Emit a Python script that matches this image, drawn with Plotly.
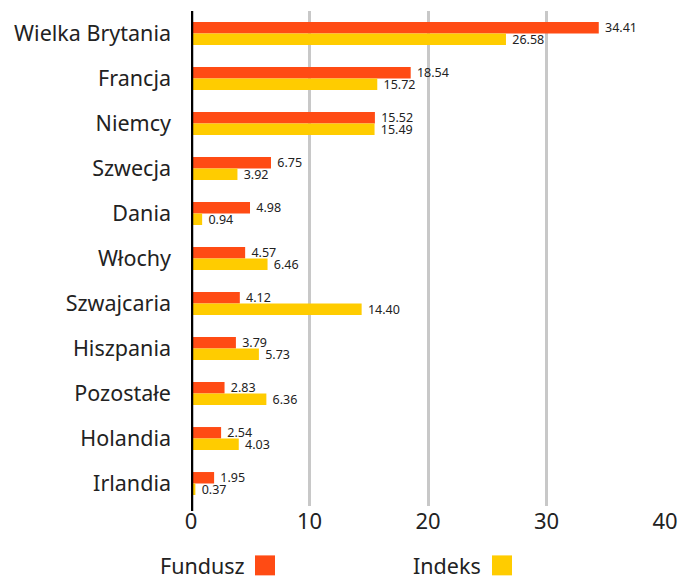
import plotly.graph_objects as go

categories = ["Wielka Brytania", "Francja", "Niemcy", "Szwecja", "Dania", "Włochy",
              "Szwajcaria", "Hiszpania", "Pozostałe", "Holandia", "Irlandia"]
fundusz = [34.41, 18.54, 15.52, 6.75, 4.98, 4.57, 4.12, 3.79, 2.83, 2.54, 1.95]
indeks = [26.58, 15.72, 15.49, 3.92, 0.94, 6.46, 14.40, 5.73, 6.36, 4.03, 0.37]
x_ticks = [0, 10, 20, 30, 40]

C_F = "#FF4B14"
C_I = "#FFCC00"
FONT = "Noto Sans"

L, R, T, B = 183, 35, 2.5, 82.5
PW, PH = 692 - L - R, 581 - T - B

fig = go.Figure()
for name, vals, col in [("Fundusz", fundusz, C_F), ("Indeks", indeks, C_I)]:
    fig.add_trace(go.Bar(y=categories, x=vals, orientation="h", name=name,
                         marker=dict(color=col, line=dict(width=0)),
                         texttemplate=" %{x:.2f}", textposition="outside",
                         textfont=dict(size=12.5, color="#222222", family=FONT),
                         cliponaxis=False, constraintext="none"))

fig.update_layout(
    width=692, height=581,
    margin=dict(l=L, r=R, t=T, b=B, autoexpand=False),
    plot_bgcolor="white", paper_bgcolor="white",
    barmode="group", bargap=0.49, bargroupgap=0,
    showlegend=False,
    font=dict(family=FONT, color="#222222"),
    xaxis=dict(range=[0, 40], tickvals=x_ticks, showgrid=True, gridcolor="#c8c8c8",
               gridwidth=2.5, zeroline=False, showline=False,
               tickfont=dict(size=22, color="#222222"), ticks="", ticklabelstandoff=0),
    yaxis=dict(autorange="reversed", showgrid=False, zeroline=False, showline=False,
               tickfont=dict(size=21.5, color="#222222"), ticks="", ticklabelstandoff=19),
)

fig.add_shape(type="line", xref="x", yref="paper", x0=0, x1=0, y0=-0.01, y1=1,
              line=dict(color="black", width=4.5), layer="above")

# custom legend: text followed by coloured square
legend_items = [("Fundusz", C_F, 247, 255), ("Indeks", C_I, 483, 492)]
for label, color, text_right, sq_left in legend_items:
    fig.add_annotation(xref="paper", yref="paper", x=(text_right - 8 - L) / PW,
                       y=(PH + T - 558) / PH,
                       text=label, showarrow=False, xanchor="right", yanchor="middle",
                       font=dict(size=21.5, color="#222222", family=FONT))
    fig.add_shape(type="rect", xref="paper", yref="paper",
                  x0=(sq_left - 8 - L) / PW, x1=(sq_left + 12 - L) / PW,
                  y0=(PH + T - 548) / PH, y1=(PH + T - 568) / PH,
                  fillcolor=color, line=dict(width=0))

fig.write_html("out.html")
